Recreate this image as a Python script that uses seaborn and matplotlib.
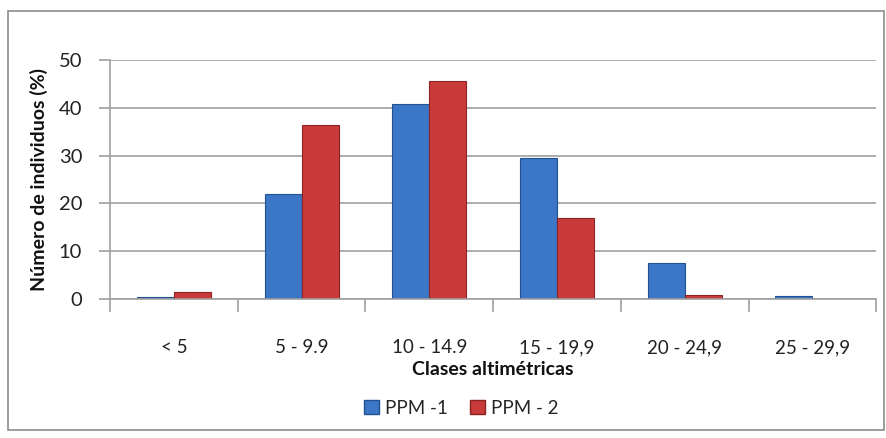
import matplotlib
matplotlib.use("Agg")
import matplotlib.pyplot as plt
import seaborn as sns
import pandas as pd
import numpy as np
from matplotlib.patches import Rectangle

categories = ["< 5", "5 - 9.9", "10 - 14.9", "15 - 19,9", "20 - 24,9", "25 - 29,9"]
ppm1 = [0.5, 21.9, 40.9, 29.6, 7.5, 0.6]
ppm2 = [1.6, 36.4, 45.6, 16.9, 0.8, 0.0]
series_names = ["PPM -1", "PPM - 2"]
yticks = [0, 10, 20, 30, 40, 50]

df = pd.DataFrame({
    "cat": categories * 2,
    "val": ppm1 + ppm2,
    "serie": [series_names[0]] * len(categories) + [series_names[1]] * len(categories),
})

sns.set_theme(style="white")
plt.rcParams['font.family'] = ['Lato', 'DejaVu Sans']

colors = {series_names[0]: "#3b77c6", series_names[1]: "#c93b3b"}
edges = {series_names[0]: "#23508f", series_names[1]: "#8a2323"}

fig = plt.figure(figsize=(8.87, 4.38), dpi=100)
ax = fig.add_axes([0.124, 0.317, 0.864, 0.546])

sns.barplot(data=df, x="cat", y="val", hue="serie", palette=colors,
            width=0.58, ax=ax, legend=False, saturation=1)

for cont, name in zip(ax.containers, series_names):
    for p in cont.patches:
        p.set_edgecolor(edges[name])
        p.set_linewidth(0.8)

ax.set_ylim(0, 50)
ax.set_xlim(-0.5, len(categories) - 0.5)
ax.set_yticks(yticks)
ax.yaxis.grid(True, color="#a0a0a0", linewidth=1.2)
ax.set_axisbelow(True)
for s in ["top", "right"]:
    ax.spines[s].set_visible(False)
ax.spines["left"].set_color("#a0a0a0")
ax.spines["bottom"].set_color("#a0a0a0")
ax.spines["left"].set_linewidth(1.2)
ax.spines["bottom"].set_linewidth(1.2)

ax.tick_params(axis="y", which="major", length=8, width=1.2, color="#a0a0a0",
               labelsize=14.5, labelcolor="#222222", direction="out", left=True, pad=12)
ax.tick_params(axis="x", which="major", length=0, labelsize=13.5, labelcolor="#222222", pad=29)
ax.set_xticks(np.arange(-0.5, len(categories), 1.0), minor=True)
ax.tick_params(axis="x", which="minor", length=9, width=1.2, color="#a0a0a0",
               direction="out", bottom=True)

ax.set_xlabel("Clases altimétricas", fontsize=14, fontweight="bold", color="#111111", labelpad=3)
ax.set_ylabel("Número de individuos (%)", fontsize=14, fontweight="bold", color="#111111", labelpad=8)

handles = [Rectangle((0, 0), 1, 1, facecolor=colors[n], edgecolor=edges[n]) for n in series_names]
fig.legend(handles, series_names, loc="center", bbox_to_anchor=(0.52, 0.068), ncol=2,
           frameon=False, fontsize=13.5, handlelength=0.8, handleheight=0.8,
           handletextpad=0.3, columnspacing=1.2)

fig.add_artist(Rectangle((0.009, 0.018), 0.988, 0.958, transform=fig.transFigure,
                         fill=False, edgecolor="#8c8c8c", linewidth=1.2))

fig.savefig("out.png", dpi=100)
